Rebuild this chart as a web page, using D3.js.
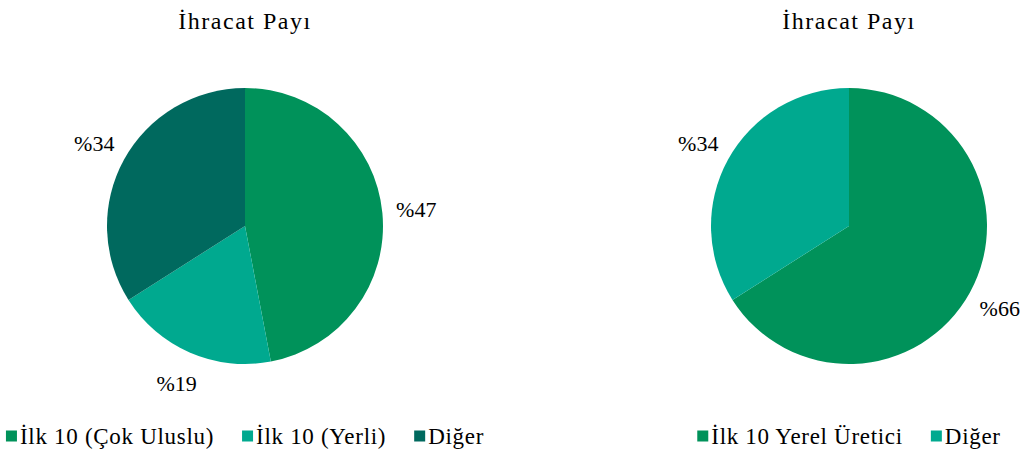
<!DOCTYPE html>
<html>
<head>
<meta charset="utf-8">
<script src="https://cdn.jsdelivr.net/npm/d3@7"></script>
<style>
  body { margin: 0; background: #fff; }
  text { font-family: "Liberation Serif", "Times New Roman", serif; fill: #000; }
</style>
</head>
<body>
<svg id="chart" width="1030" height="454"></svg>
<script>
// data
const titles = ["İhracat Payı", "İhracat Payı"];
const leftLabels = ["İlk 10 (Çok Uluslu)", "İlk 10 (Yerli)", "Diğer"];
const leftValues = [47, 19, 34];
const rightLabels = ["İlk 10 Yerel Üretici", "Diğer"];
const rightValues = [66, 34];
const leftColors = ["#00925a", "#00a98f", "#00695e"];
const rightColors = ["#00925a", "#00a98f"];

const svg = d3.select("#chart");
const radius = 138;
const labelRadius = 172;

function drawPie(cx, cy, title, labels, values, colors) {
    const g = svg.append("g");
    const data = labels.map((l, i) => ({ label: l, value: values[i], color: colors[i] }));

    g.append("text")
        .attr("x", cx)
        .attr("y", 29)
        .attr("text-anchor", "middle")
        .style("font-size", "24px")
        .style("letter-spacing", "1.5px")
        .text(title);

    const pie = d3.pie().sort(null).value(d => d.value);
    const arc = d3.arc().innerRadius(0).outerRadius(radius);
    const labelArc = d3.arc().innerRadius(labelRadius).outerRadius(labelRadius);
    const arcs = pie(data);

    const pg = g.append("g").attr("transform", `translate(${cx},${cy})`);
    pg.selectAll("path")
        .data(arcs)
        .enter()
        .append("path")
        .attr("d", arc)
        .attr("fill", d => d.data.color);

    pg.selectAll("text.lbl")
        .data(arcs)
        .enter()
        .append("text")
        .attr("class", "lbl")
        .attr("transform", d => `translate(${labelArc.centroid(d)})`)
        .attr("text-anchor", "middle")
        .attr("dominant-baseline", "central")
        .style("font-size", "22px")
        .text(d => "%" + d.data.value);

    // legend, centred under the pie
    const lg = g.append("g");
    const sw = 11, pad = 3, gap = 28;
    const items = lg.selectAll("g")
        .data(data)
        .enter()
        .append("g");
    items.append("rect")
        .attr("width", sw)
        .attr("height", sw)
        .attr("y", -sw / 2)
        .attr("fill", d => d.color);
    items.append("text")
        .attr("x", sw + pad)
        .attr("dominant-baseline", "central")
        .style("font-size", "23px")
        .style("letter-spacing", "0.7px")
        .text(d => d.label);

    let x = 0;
    items.each(function () {
        const w = sw + pad + d3.select(this).select("text").node().getComputedTextLength();
        d3.select(this).attr("transform", `translate(${x},0)`);
        x += w + gap;
    });
    const total = x - gap;
    lg.attr("transform", `translate(${cx - total / 2},436)`);
}

drawPie(245, 226, titles[0], leftLabels, leftValues, leftColors);
drawPie(849, 226, titles[1], rightLabels, rightValues, rightColors);
</script>
</body>
</html>
